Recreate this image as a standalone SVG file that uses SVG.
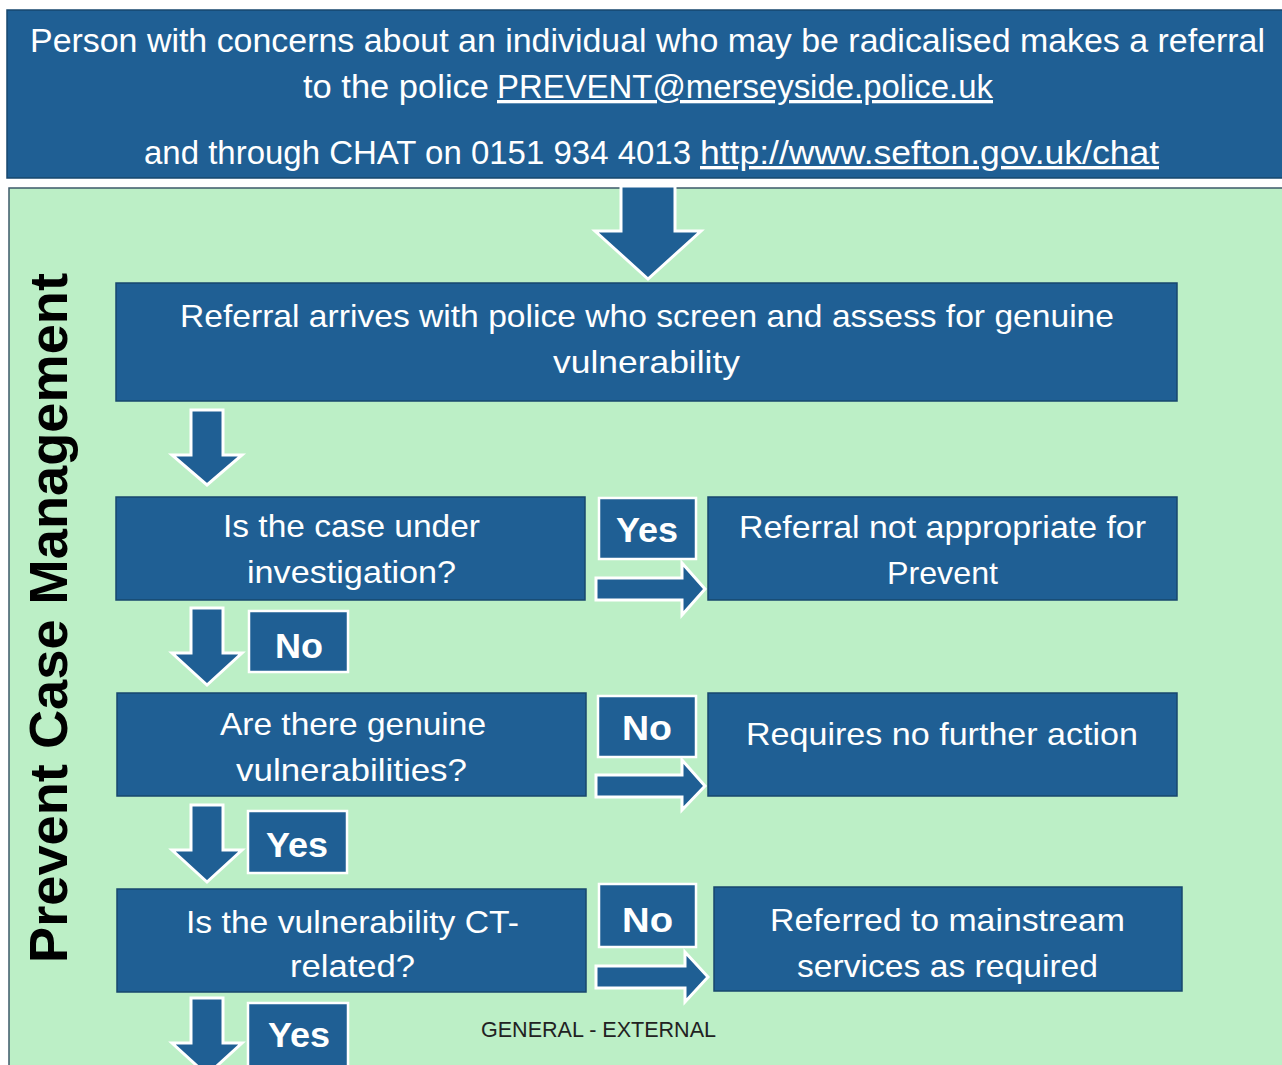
<svg xmlns="http://www.w3.org/2000/svg" width="1282" height="1065" viewBox="0 0 1282 1065">
<defs>
<style>
.box{fill:#1f5f94;stroke:#17476d;stroke-width:1.5}
.lbl{fill:#1f5f94;stroke:#ffffff;stroke-width:2.5}
.arr{fill:#1f5f94;stroke:#ffffff;stroke-width:3;stroke-linejoin:miter}
.t{font-family:"Liberation Sans",Arial,sans-serif;font-size:32px;fill:#ffffff}
.h{font-family:"Liberation Sans",Arial,sans-serif;font-size:33px;fill:#ffffff}
.u{text-decoration:underline}
.b{font-family:"Liberation Sans",Arial,sans-serif;font-size:35px;font-weight:bold;fill:#ffffff}
</style>
</defs>
<rect x="0" y="0" width="1282" height="1065" fill="#ffffff"/>
<g id="header">
<rect x="7" y="10" width="1280" height="168" class="box"/>
<text class="h" x="30" y="52" textLength="1235" lengthAdjust="spacingAndGlyphs">Person with concerns about an individual who may be radicalised makes a referral</text>
<text class="h" x="303" y="98" textLength="186" lengthAdjust="spacingAndGlyphs">to the police</text>
<text class="h u" x="497" y="98" textLength="496" lengthAdjust="spacingAndGlyphs">PREVENT@merseyside.police.uk</text>
<text class="h" x="144" y="164" textLength="547" lengthAdjust="spacingAndGlyphs">and through CHAT on 0151 934 4013</text>
<text class="h u" x="700" y="164" textLength="459" lengthAdjust="spacingAndGlyphs">http://www.sefton.gov.uk/chat</text>
</g>
<g id="panel">
<rect x="9" y="188" width="1280" height="890" fill="#bcefc6" stroke="#3d5a6a" stroke-width="1.5"/>
<text x="0" y="0" transform="translate(67,963) rotate(-90)" font-family="Liberation Sans, Arial, sans-serif" font-size="54" font-weight="bold" fill="#000000" textLength="690" lengthAdjust="spacingAndGlyphs">Prevent Case Management</text>
<text x="481" y="1037" font-family="Liberation Sans, Arial, sans-serif" font-size="22" fill="#222222" textLength="235" lengthAdjust="spacingAndGlyphs">GENERAL - EXTERNAL</text>
</g>
<g id="connectors">
<path class="arr" d="M621,186 H675 V231 H701 L648,279 L595,231 H621 Z"/>
<path class="arr" d="M191,410 H223 V455 H242 L207,485 L172,455 H191 Z"/>
<path class="arr" d="M191,608 H223 V653 H242 L207,685 L172,653 H191 Z"/>
<path class="arr" d="M191,805 H223 V850 H242 L207,882 L172,850 H191 Z"/>
<path class="arr" d="M191,998 H223 V1043 H242 L207,1075 L172,1043 H191 Z"/>
<path class="arr" d="M596,578 H682 V563 L705,589 L682,615 V600 H596 Z"/>
<path class="arr" d="M596,775 H682 V760 L705,786 L682,810 V797 H596 Z"/>
<path class="arr" d="M596,966 H685 V952 L708,977 L685,1002 V988 H596 Z"/>
</g>
<g id="n1">
<rect x="116" y="283" width="1061" height="118" class="box"/>
<text class="t" x="180" y="327" textLength="934" lengthAdjust="spacingAndGlyphs">Referral arrives with police who screen and assess for genuine</text>
<text class="t" x="553" y="373" textLength="187" lengthAdjust="spacingAndGlyphs">vulnerability</text>
</g>
<g id="n2">
<rect x="116" y="497" width="469" height="103" class="box"/>
<text class="t" x="223" y="537" textLength="257" lengthAdjust="spacingAndGlyphs">Is the case under</text>
<text class="t" x="247" y="583" textLength="209" lengthAdjust="spacingAndGlyphs">investigation?</text>
</g>
<g id="l-yes1">
<rect x="599" y="498" width="97" height="61" class="lbl"/>
<text class="b" x="616" y="542" textLength="62" lengthAdjust="spacingAndGlyphs">Yes</text>
</g>
<g id="n3">
<rect x="708" y="497" width="469" height="103" class="box"/>
<text class="t" x="739" y="538" textLength="407" lengthAdjust="spacingAndGlyphs">Referral not appropriate for</text>
<text class="t" x="887" y="584" textLength="111" lengthAdjust="spacingAndGlyphs">Prevent</text>
</g>
<g id="l-no1">
<rect x="249" y="611" width="99" height="61" class="lbl"/>
<text class="b" x="275" y="658" textLength="48" lengthAdjust="spacingAndGlyphs">No</text>
</g>
<g id="n4">
<rect x="117" y="693" width="469" height="103" class="box"/>
<text class="t" x="220" y="735" textLength="266" lengthAdjust="spacingAndGlyphs">Are there genuine</text>
<text class="t" x="236" y="781" textLength="231" lengthAdjust="spacingAndGlyphs">vulnerabilities?</text>
</g>
<g id="l-no2">
<rect x="598" y="696" width="98" height="61" class="lbl"/>
<text class="b" x="622" y="740" textLength="50" lengthAdjust="spacingAndGlyphs">No</text>
</g>
<g id="n5">
<rect x="708" y="693" width="469" height="103" class="box"/>
<text class="t" x="746" y="745" textLength="392" lengthAdjust="spacingAndGlyphs">Requires no further action</text>
</g>
<g id="l-yes2">
<rect x="248" y="811" width="99" height="62" class="lbl"/>
<text class="b" x="266" y="857" textLength="62" lengthAdjust="spacingAndGlyphs">Yes</text>
</g>
<g id="n6">
<rect x="117" y="889" width="469" height="103" class="box"/>
<text class="t" x="186" y="933" textLength="333" lengthAdjust="spacingAndGlyphs">Is the vulnerability CT-</text>
<text class="t" x="290" y="977" textLength="125" lengthAdjust="spacingAndGlyphs">related?</text>
</g>
<g id="l-no3">
<rect x="599" y="884" width="97" height="63" class="lbl"/>
<text class="b" x="622" y="932" textLength="51" lengthAdjust="spacingAndGlyphs">No</text>
</g>
<g id="n7">
<rect x="714" y="887" width="468" height="104" class="box"/>
<text class="t" x="770" y="931" textLength="355" lengthAdjust="spacingAndGlyphs">Referred to mainstream</text>
<text class="t" x="797" y="977" textLength="301" lengthAdjust="spacingAndGlyphs">services as required</text>
</g>
<g id="l-yes3">
<rect x="248" y="1003" width="100" height="70" class="lbl"/>
<text class="b" x="268" y="1047" textLength="62" lengthAdjust="spacingAndGlyphs">Yes</text>
</g>
</svg>
